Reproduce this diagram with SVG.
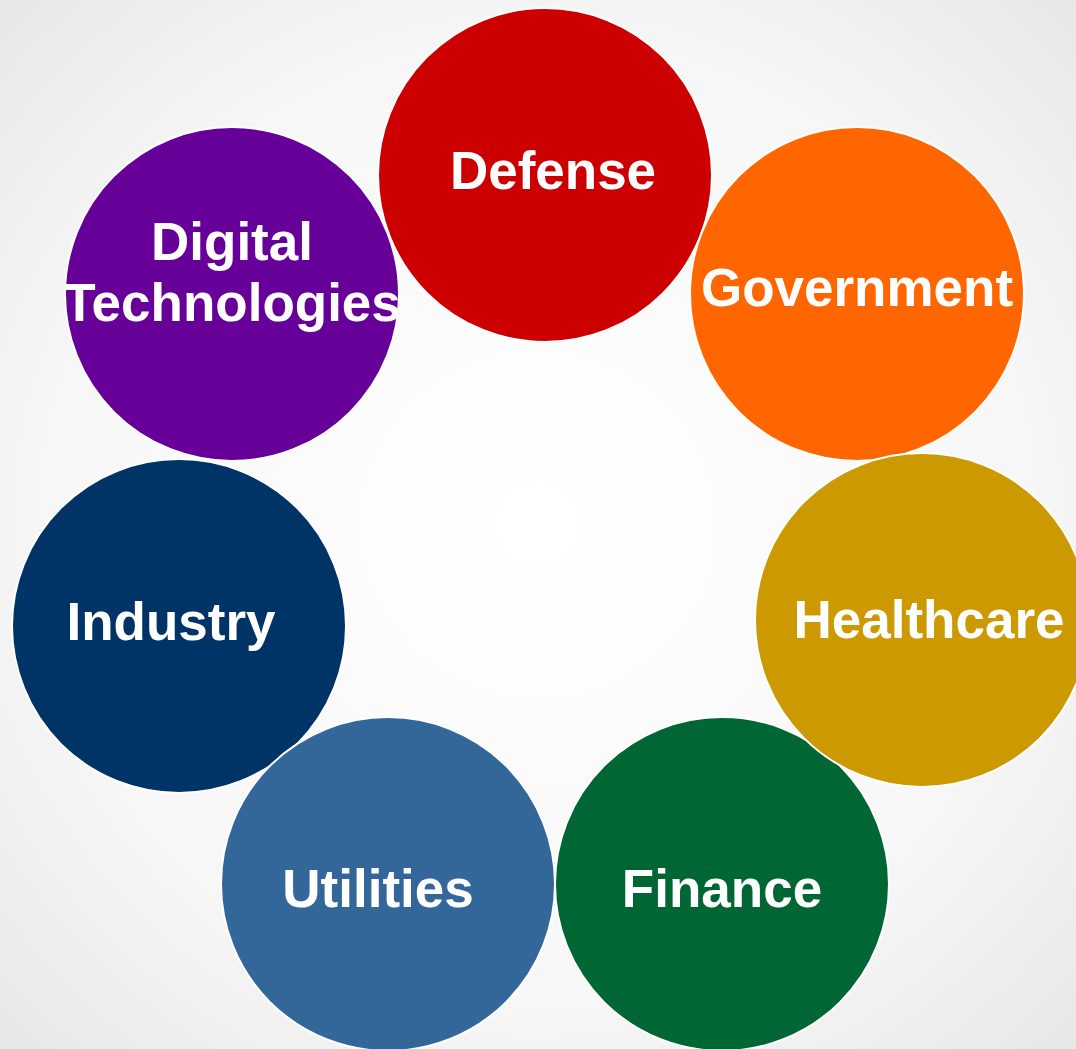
<svg xmlns="http://www.w3.org/2000/svg" width="1076" height="1049" viewBox="0 0 1076 1049">
<defs>
<radialGradient id="bg" cx="0.5" cy="0.5" r="0.75">
<stop offset="0" stop-color="#ffffff"/>
<stop offset="0.6" stop-color="#f7f7f7"/>
<stop offset="1" stop-color="#e4e4e4"/>
</radialGradient>
<style>
.c{stroke:#ffffff;stroke-width:2}
.t{font-family:"Liberation Sans",Arial,sans-serif;font-weight:bold;font-size:53px;fill:#ffffff;text-anchor:middle}
</style>
</defs>
<rect width="1076" height="1049" fill="url(#bg)"/>
<g id="digital"><circle class="c" cx="232" cy="294" r="167" fill="#660099"/><text class="t" x="232" y="260">Digital</text><text class="t" x="232" y="321">Technologies</text></g>
<g id="defense"><circle class="c" cx="545" cy="175" r="167" fill="#CC0000"/><text class="t" x="553" y="189">Defense</text></g>
<g id="government"><circle class="c" cx="857" cy="294" r="167" fill="#FF6600"/><text class="t" x="857" y="306">Government</text></g>
<g id="finance"><circle class="c" cx="722" cy="884" r="167" fill="#006633"/><text class="t" x="722" y="907">Finance</text></g>
<g id="healthcare"><circle class="c" cx="922" cy="620" r="167" fill="#CC9900"/><text class="t" x="929" y="638">Healthcare</text></g>
<g id="industry"><circle class="c" cx="179" cy="626" r="167" fill="#003366"/><text class="t" x="171" y="640">Industry</text></g>
<g id="utilities"><circle class="c" cx="388" cy="884" r="167" fill="#336699"/><text class="t" x="378" y="907">Utilities</text></g>
<g id="connectors"></g>
</svg>
